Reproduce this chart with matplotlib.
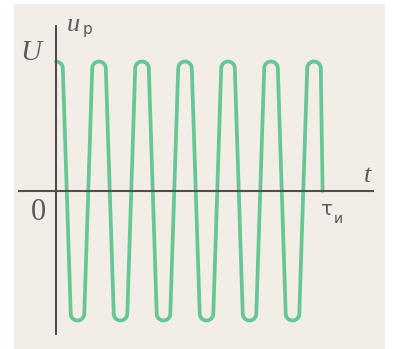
import numpy as np
import matplotlib
matplotlib.use("Agg")
import matplotlib.pyplot as plt
from matplotlib.patches import Rectangle

# Radio pulse: extrema of the carrier oscillation (time in carrier periods,
# voltage in units of the amplitude U) and the pulse end time tau_i.
t_extrema = [0.0, 0.5, 1.0, 1.5, 2.0, 2.5, 3.0, 3.5, 4.0, 4.5, 5.0, 5.5, 6.0]
u_extrema = [1, -1, 1, -1, 1, -1, 1, -1, 1, -1, 1, -1, 1]
t_pulse_end = 6.2

axis_labels = {"U": "U", "u": "u", "sub_u": "р", "t": "t", "zero": "0",
               "tau": "τ", "sub_tau": "и"}

W, H = 394, 349
fig = plt.figure(figsize=(W / 100, H / 100), dpi=100)
fig.patch.set_facecolor("white")

# paper sheet
fig.patches.append(Rectangle((14 / W, 0), (385 - 14) / W, (349 - 4) / H,
                             transform=fig.transFigure, facecolor="#f3ede7",
                             edgecolor="none", zorder=-10))

ax = fig.add_axes([0, 0, 1, 1])
ax.axis("off")
ax.patch.set_alpha(0)
ax.set_zorder(1)

# scale: one carrier period = 43 px, amplitude U = 129.5 px
x0, px_t = 56.0, 43.0
y0, px_u = 191.0, 129.5
ax.set_xlim(-x0 / px_t, (W - x0) / px_t)
ax.set_ylim(-(H - y0) / px_u, y0 / px_u)

# rounded caps at each extremum joined by straight flanks
rx, ry = 6.8 / px_t, 6.8 / px_u
ts, us = [], []
for i, (te, ue) in enumerate(zip(t_extrema, u_extrema)):
    th = np.linspace(np.pi / 2 if i == 0 else np.pi, 0, 30)
    ts.extend(te + rx * np.cos(th))
    us.extend(ue * (1 - ry) + ue * ry * np.sin(th))
ts.append(t_pulse_end)
us.append(0.0)

green = "#66c793"
ax.plot(ts, us, color=green, lw=2.7, solid_capstyle="round",
        solid_joinstyle="round", zorder=2)

# coordinate axes
axis_col = "#554c4c"
ax.plot([(18 - x0) / px_t, (374 - x0) / px_t], [0, 0], color=axis_col,
        lw=1.5, zorder=3, solid_capstyle="butt")
ax.plot([0, 0], [(y0 - 335) / px_u, (y0 - 25) / px_u], color=axis_col,
        lw=1.5, zorder=3, solid_capstyle="butt")

txt = "#5e5858"
serif_i = dict(family="Liberation Serif", style="italic", color=txt)


def put(x, y, s, **kw):
    fig.text(x / W, 1 - y / H, s, **kw)


put(31, 53, axis_labels["U"], fontsize=21, ha="center", va="center", **serif_i)
put(73, 31, axis_labels["u"], fontsize=19, ha="center", va="baseline", **serif_i)
put(88, 34, axis_labels["sub_u"], fontsize=11, ha="center", va="baseline",
    family="DejaVu Sans", color=txt)
put(368, 182, axis_labels["t"], fontsize=19, ha="center", va="baseline", **serif_i)
put(38.5, 212, axis_labels["zero"], fontsize=22, ha="center", va="center",
    family="Liberation Serif", color=txt)
put(327, 215, axis_labels["tau"], fontsize=14, ha="center", va="baseline",
    family="DejaVu Sans", color=txt)
put(338, 223, axis_labels["sub_tau"], fontsize=10, ha="center", va="baseline",
    family="DejaVu Sans", color=txt)

fig.savefig("out.png", dpi=100, facecolor="white")
